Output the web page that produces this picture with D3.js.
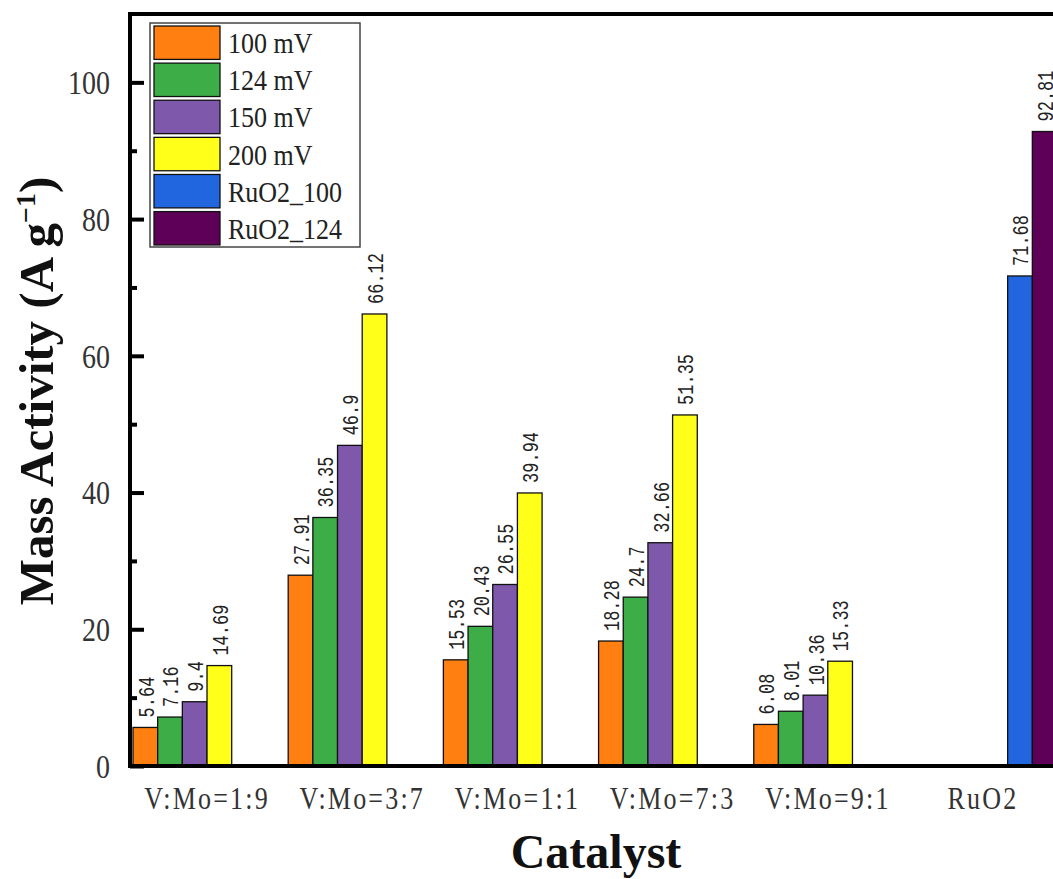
<!DOCTYPE html>
<html>
<head>
<meta charset="utf-8">
<script src="https://cdn.jsdelivr.net/npm/d3@7"></script>
<style>
  html, body { margin: 0; padding: 0; background: #fff; }
  svg { display: block; }
</style>
</head>
<body>
<svg id="chart" width="1053" height="879"></svg>
<script>
const categories = ["V:Mo=1:9", "V:Mo=3:7", "V:Mo=1:1", "V:Mo=7:3", "V:Mo=9:1", "RuO2"];
const seriesNames = ["100 mV", "124 mV", "150 mV", "200 mV", "RuO2_100", "RuO2_124"];
const seriesColors = ["#FF7F10", "#3DAD47", "#7E58AB", "#FFFF1A", "#2166DE", "#5E0058"];
const values100 = [5.64, 27.91, 15.53, 18.28, 6.08, null];
const values124 = [7.16, 36.35, 20.43, 24.7, 8.01, null];
const values150 = [9.4, 46.9, 26.55, 32.66, 10.36, null];
const values200 = [14.69, 66.12, 39.94, 51.35, 15.33, null];
const valuesRuO2_100 = [null, null, null, null, null, 71.68];
const valuesRuO2_124 = [null, null, null, null, null, 92.81];
const yTicks = [0, 20, 40, 60, 80, 100];
const yMinorTicks = [10, 30, 50, 70, 90];

const seriesValues = [values100, values124, values150, values200, valuesRuO2_100, valuesRuO2_124];

const svg = d3.select("#chart");
const mLeft = 130, mRight = 1060, mTop = 14, mBottom = 766;

const x = d3.scaleBand().domain(categories).range([mLeft, mRight])
  .paddingInner(0.046).paddingOuter(0.0193);
const xs = d3.scaleBand().domain(seriesNames).range([0, x.bandwidth()]).padding(0);
const y = d3.scaleLinear().domain([0, 110]).range([mBottom, mTop]);

// bars
const barData = [];
seriesNames.forEach((s, si) => {
  categories.forEach((c, ci) => {
    const v = seriesValues[si][ci];
    if (v != null) barData.push({ s, si, c, v });
  });
});

const g = svg.append("g");
g.selectAll("rect.bar").data(barData).join("rect")
  .attr("class", "bar")
  .attr("x", d => x(d.c) + xs(d.s))
  .attr("y", d => y(d.v))
  .attr("width", xs.bandwidth())
  .attr("height", d => y(0) - y(d.v))
  .attr("fill", d => seriesColors[d.si])
  .attr("stroke", "#111")
  .attr("stroke-width", 1.3);

// value labels
g.selectAll("text.val").data(barData).join("text")
  .attr("class", "val")
  .attr("transform", d => `translate(${x(d.c) + xs(d.s) + xs.bandwidth() / 2},${y(d.v) - 10}) rotate(-90) scale(1,1.35)`)
  .attr("dy", "0.36em")
  .attr("text-anchor", "start")
  .attr("font-family", "'Liberation Mono', 'DejaVu Sans Mono', monospace")
  .attr("font-size", 17)
  .attr("fill", "#222")
  .text(d => String(d.v));

// frame: top, left, bottom
svg.append("line").attr("x1", mLeft).attr("x2", 1053).attr("y1", mTop).attr("y2", mTop)
  .attr("stroke", "#000").attr("stroke-width", 4);
svg.append("line").attr("x1", mLeft).attr("x2", mLeft).attr("y1", mTop - 2).attr("y2", mBottom + 2)
  .attr("stroke", "#000").attr("stroke-width", 4);
svg.append("line").attr("x1", mLeft - 2).attr("x2", 1053).attr("y1", mBottom).attr("y2", mBottom)
  .attr("stroke", "#000").attr("stroke-width", 4);

// y axis ticks (inward)
const yAxis = d3.axisRight(y).tickValues(yTicks).tickSize(14).tickFormat("");
const ya = svg.append("g").attr("transform", `translate(${mLeft},0)`).call(yAxis);
ya.select(".domain").remove();
ya.selectAll(".tick line").attr("stroke", "#000").attr("stroke-width", 4);
const yMinor = d3.axisRight(y).tickValues(yMinorTicks).tickSize(7).tickFormat("");
const ym = svg.append("g").attr("transform", `translate(${mLeft},0)`).call(yMinor);
ym.select(".domain").remove();
ym.selectAll(".tick line").attr("stroke", "#000").attr("stroke-width", 4);

// y tick labels
svg.append("g").selectAll("text").data(yTicks).join("text")
  .attr("transform", d => `translate(110,${y(d)}) scale(1,1.2)`)
  .attr("dy", "0.35em")
  .attr("text-anchor", "end")
  .attr("font-family", "'Liberation Serif', 'Times New Roman', serif")
  .attr("font-size", 28)
  .attr("fill", "#333")
  .text(d => d);

// x labels
svg.append("g").selectAll("text").data(categories).join("text")
  .attr("transform", d => `translate(${x(d) + x.bandwidth() / 2},809) scale(1,1.25)`)
  .attr("text-anchor", "middle")
  .attr("font-family", "'Liberation Serif', 'Times New Roman', serif")
  .attr("font-size", 26)
  .attr("letter-spacing", 2.2)
  .attr("fill", "#333")
  .text(d => d);

// axis titles
svg.append("text")
  .attr("x", 596).attr("y", 868)
  .attr("text-anchor", "middle")
  .attr("font-family", "'Liberation Serif', 'Times New Roman', serif")
  .attr("font-weight", "bold")
  .attr("font-size", 48)
  .attr("fill", "#111")
  .text("Catalyst");

const yt = svg.append("text")
  .attr("transform", "translate(53,391) rotate(-90)")
  .attr("text-anchor", "middle")
  .attr("font-family", "'Liberation Serif', 'Times New Roman', serif")
  .attr("font-weight", "bold")
  .attr("font-size", 49)
  .attr("fill", "#111");
yt.append("tspan").text("Mass Activity (A g");
yt.append("tspan").attr("dy", -18).attr("font-size", 28).text("−1");
yt.append("tspan").attr("dy", 18).text(")");

// legend
const lg = svg.append("g");
lg.append("rect").attr("x", 150).attr("y", 23).attr("width", 210).attr("height", 224)
  .attr("fill", "#fff").attr("stroke", "#444").attr("stroke-width", 1.5);
const ly = d3.scaleBand().domain(seriesNames).range([26, 245]).paddingInner(0.1);
const items = lg.selectAll("g.item").data(seriesNames).join("g").attr("class", "item");
items.append("rect")
  .attr("x", 154).attr("y", d => ly(d))
  .attr("width", 66).attr("height", ly.bandwidth())
  .attr("fill", (d, i) => seriesColors[i])
  .attr("stroke", "#111").attr("stroke-width", 1.3);
items.append("text")
  .attr("transform", d => `translate(228,${ly(d) + ly.bandwidth() / 2}) scale(1,1.15)`)
  .attr("dy", "0.35em")
  .attr("font-family", "'Liberation Serif', 'Times New Roman', serif")
  .attr("font-size", 26)
  .attr("fill", "#222")
  .text(d => d);
</script>
</body>
</html>
